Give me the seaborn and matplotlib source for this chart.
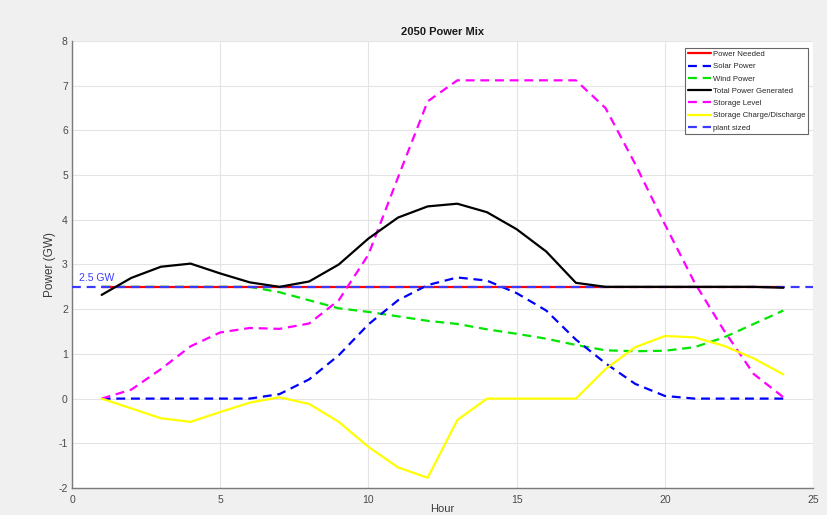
import matplotlib
matplotlib.use("Agg")
import matplotlib.pyplot as plt
import seaborn as sns

hours = list(range(1, 25))
power_needed = [2.5] * 24
solar = [0, 0, 0, 0, 0, 0, 0.1, 0.43, 0.97, 1.66, 2.2, 2.54, 2.71, 2.64, 2.36, 1.97,
         1.32, 0.79, 0.33, 0.06, 0, 0, 0, 0]
wind = [2.5, 2.5, 2.5, 2.5, 2.5, 2.5, 2.38, 2.2, 2.02, 1.94, 1.84, 1.74, 1.67, 1.55,
        1.45, 1.34, 1.2, 1.08, 1.06, 1.07, 1.15, 1.37, 1.67, 1.97]
total = [2.32, 2.7, 2.95, 3.02, 2.8, 2.6, 2.5, 2.62, 3.0, 3.58, 4.05, 4.3, 4.36, 4.17,
         3.79, 3.29, 2.59, 2.5, 2.5, 2.5, 2.5, 2.5, 2.5, 2.48]
storage_level = [0.0, 0.2, 0.66, 1.17, 1.48, 1.58, 1.56, 1.68, 2.2, 3.22, 4.95, 6.65,
                 7.12, 7.12, 7.12, 7.12, 7.12, 6.5, 5.25, 3.9, 2.6, 1.52, 0.55, 0.03]
storage_flow = [0.0, -0.22, -0.44, -0.52, -0.3, -0.09, 0.03, -0.12, -0.52, -1.08,
                -1.54, -1.77, -0.48, 0, 0, 0, 0, 0.66, 1.15, 1.4, 1.37, 1.18, 0.9, 0.54]
plant_x = [0, 25]
plant_size = [2.5, 2.5]

sns.set_theme(style="whitegrid")
plt.rcParams["font.family"] = ["Liberation Sans", "DejaVu Sans"]
plt.rcParams["axes.unicode_minus"] = False

fig = plt.figure(figsize=(8.27, 5.15), dpi=100, facecolor="#f0f0f0")
ax = fig.add_axes([72 / 827, 1 - 488 / 515, (813 - 72) / 827, (488 - 41) / 515])
ax.set_facecolor("white")

lw = 1.6
dash = (4, 2.6)
sns.lineplot(x=hours, y=wind, ax=ax, color="#00e600", lw=lw,
             linestyle=(0, dash), label="Wind Power", zorder=2)
sns.lineplot(x=hours, y=power_needed, ax=ax, color="#ff0000", lw=lw,
             label="Power Needed", zorder=3)
sns.lineplot(x=hours, y=solar, ax=ax, color="#0000ff", lw=lw,
             linestyle=(0, dash), label="Solar Power", zorder=4)
sns.lineplot(x=hours, y=total, ax=ax, color="#000000", lw=lw,
             label="Total Power Generated", zorder=5)
sns.lineplot(x=hours, y=storage_level, ax=ax, color="#ff00ff", lw=lw,
             linestyle=(0, dash), label="Storage Level", zorder=4)
sns.lineplot(x=hours, y=storage_flow, ax=ax, color="#ffff00", lw=lw,
             label="Storage Charge/Discharge", zorder=4)
sns.lineplot(x=plant_x, y=plant_size, ax=ax, color="#3b3bff", lw=lw,
             linestyle=(0, dash), label="plant sized", zorder=4)

ax.text(0.25, 2.58, "2.5 GW", color="#3b3bff", fontsize=7.5, va="bottom", ha="left")

ax.set_xlim(0, 25)
ax.set_ylim(-2, 8)
ax.set_xticks(range(0, 26, 5))
ax.set_yticks(range(-2, 9))
ax.grid(True, color="#e4e4e4", lw=0.8)
for side in ["top", "right"]:
    ax.spines[side].set_visible(False)
for side in ["left", "bottom"]:
    ax.spines[side].set_visible(True)
    ax.spines[side].set_color("#7a7a7a")
    ax.spines[side].set_linewidth(1.0)
ax.tick_params(axis="both", direction="in", length=6, width=0.8, color="#7a7a7a",
               labelsize=7.5, labelcolor="#4a4a4a", pad=5)
ax.tick_params(axis="y", pad=3)

ax.set_title("2050 Power Mix", fontsize=8, fontweight="bold", pad=4, color="#1a1a1a")
ax.set_xlabel("Hour", fontsize=8, color="#3a3a3a")
ax.xaxis.set_label_coords(0.5, -0.036)
ax.set_ylabel("Power (GW)", fontsize=8.5, color="#3a3a3a")
ax.yaxis.set_label_coords(-0.022, 0.5)

handles, labels = ax.get_legend_handles_labels()
order = ["Power Needed", "Solar Power", "Wind Power", "Total Power Generated",
         "Storage Level", "Storage Charge/Discharge", "plant sized"]
hmap = dict(zip(labels, handles))
leg = ax.legend([hmap[k] for k in order], order, loc="upper right",
                bbox_to_anchor=(0.9935, 0.9845), fontsize=5.6, frameon=True,
                fancybox=False, edgecolor="#666666", framealpha=1,
                handlelength=2.9, handletextpad=0.3, labelspacing=0.62,
                borderpad=0.35, borderaxespad=0)
leg.get_frame().set_linewidth(0.8)

fig.savefig("out.png", dpi=100, facecolor=fig.get_facecolor())
